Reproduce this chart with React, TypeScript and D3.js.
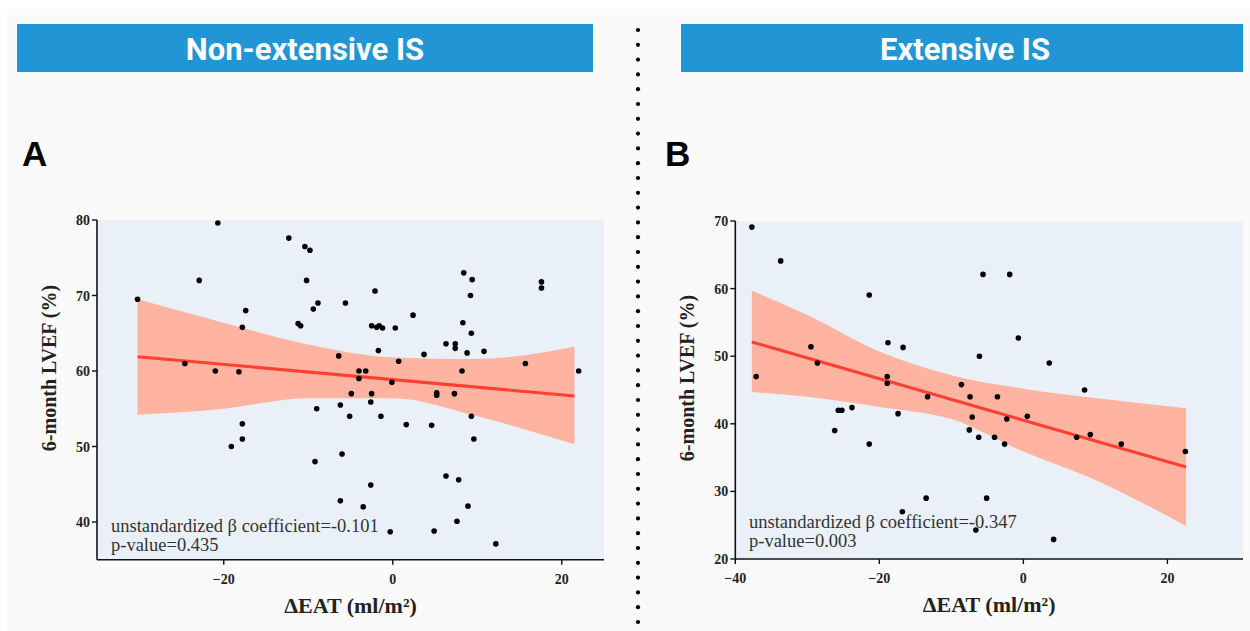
import React from "react";
import * as d3 from "d3";

// panel A: non-extensive IS (ΔEAT, 6-month LVEF)
const pointsA: [number, number][] = [
  [-30.2, 69.5], [-20.7, 79.6], [-22.9, 72.0], [-12.3, 77.6], [-10.4, 76.5], [-9.8, 76.0],
  [-10.2, 72.0], [-8.85, 69.0], [-9.4, 68.2], [-5.6, 69.0], [-17.4, 68.0], [-17.8, 65.8],
  [-11.2, 66.3], [-10.9, 66.0], [-6.4, 62.0], [-24.6, 61.0], [-21.0, 60.0], [-18.2, 59.9],
  [-4.0, 60.0], [-4.0, 59.0], [-4.9, 57.0], [-2.1, 70.6], [2.4, 67.4], [-2.5, 66.0],
  [-1.9, 65.8], [-1.6, 66.0], [-1.2, 65.7], [0.3, 65.7], [8.4, 73.0], [9.4, 72.1],
  [9.2, 70.0], [17.6, 71.8], [17.6, 71.0], [8.3, 66.4], [9.3, 65.0], [6.3, 63.6],
  [7.4, 63.6], [7.4, 63.0], [8.8, 62.4], [10.8, 62.6], [3.7, 62.2], [-1.7, 62.7],
  [0.7, 61.3], [15.7, 61.0], [22.0, 60.0], [-3.2, 60.0], [-0.1, 58.5], [8.2, 60.0],
  [-2.5, 57.0], [5.2, 57.1], [5.2, 56.8], [7.3, 57.0], [-6.2, 55.5], [-2.6, 55.9],
  [-5.1, 54.0], [-1.4, 54.0], [1.6, 52.9], [4.6, 52.8], [9.3, 54.0], [9.6, 51.0],
  [-6.0, 49.0], [-2.6, 44.9], [6.3, 46.1], [7.8, 45.6], [-6.2, 42.8], [-3.5, 42.0],
  [8.9, 42.1], [7.6, 40.1], [-0.3, 38.7], [4.9, 38.8], [12.2, 37.1], [-17.8, 53.0],
  [-17.8, 51.0], [-19.1, 50.0], [-9.0, 55.0], [-9.2, 48.0],
];
const fitA = { x: [-30.2, 21.5], y: [61.9, 56.7] };
const bandAx = [-30.2, -20, -10, 0, 10, 21.5];
const bandAlo = [54.2, 55.0, 56.4, 56.4, 54.0, 50.3];
const bandAhi = [69.5, 66.4, 63.5, 61.8, 61.6, 63.2];

// panel B: extensive IS
const pointsB: [number, number][] = [
  [-37.7, 69.1], [-33.7, 64.1], [-21.4, 59.05], [-5.6, 62.1], [-1.9, 62.1], [-29.5, 51.4],
  [-28.6, 49.0], [-18.8, 52.0], [-16.7, 51.3], [-37.1, 47.0], [-18.9, 47.0], [-18.9, 46.0],
  [-6.1, 50.0], [-8.6, 45.8], [-13.3, 44.0], [-7.4, 44.0], [-3.6, 44.0], [-0.7, 52.7],
  [3.6, 49.0], [8.5, 45.0], [-25.7, 42.0], [-25.2, 42.0], [-23.8, 42.4], [-17.4, 41.5],
  [-7.1, 41.0], [-7.5, 39.1], [-26.2, 39.0], [-6.2, 38.0], [-21.4, 37.0], [-13.5, 29.0],
  [-5.1, 29.0], [-16.8, 27.0], [-6.6, 24.3], [-2.3, 40.7], [0.55, 41.1], [-4.0, 38.0],
  [-2.6, 37.0], [4.2, 22.9], [7.4, 38.0], [9.3, 38.4], [13.6, 37.0], [22.5, 35.9],
];
const fitB = { x: [-37.7, 22.6], y: [52.1, 33.6] };
const bandBx = [-37.7, -30, -20, -10, 0, 10, 22.6];
const bandBlo = [44.7, 44.0, 42.5, 40.7, 35.9, 31.7, 24.9];
const bandBhi = [59.7, 56.1, 50.7, 47.2, 45.2, 43.8, 42.3];

const ticksA_x = [-20, 0, 20];
const ticksA_y = [40, 50, 60, 70, 80];
const ticksB_x = [-40, -20, 0, 20];
const ticksB_y = [20, 30, 40, 50, 60, 70];

const serif = "'Liberation Serif', 'Times New Roman', serif";
const sans = "'Liberation Sans', Arial, sans-serif";

type PanelProps = {
  left: number; right: number; top: number; bottom: number;
  xDomain: [number, number]; yDomain: [number, number];
  xTicks: number[]; yTicks: number[];
  points: [number, number][];
  fit: { x: number[]; y: number[] };
  bx: number[]; blo: number[]; bhi: number[];
  beta: string; pval: string; noteX: number; noteY: number;
  labelY: number;
};

function Panel(p: PanelProps) {
  const x = d3.scaleLinear().domain(p.xDomain).range([p.left, p.right]);
  const y = d3.scaleLinear().domain(p.yDomain).range([p.bottom, p.top]);
  const band = d3.area<number>()
    .x((d) => x(p.bx[d]))
    .y0((d) => y(p.blo[d]))
    .y1((d) => y(p.bhi[d]))
    .curve(d3.curveMonotoneX);
  const line = d3.line<number>().x((d) => x(p.fit.x[d])).y((d) => y(p.fit.y[d]));
  const midX = (p.left + p.right) / 2;
  return (
    <g>
      <rect x={p.left} y={p.top} width={p.right - p.left} height={p.bottom - p.top} fill="#eaf0f7" />
      <path d={band(d3.range(p.bx.length)) || ""} fill="#ffb3a1" />
      <path d={line([0, 1]) || ""} stroke="#ff4032" strokeWidth={3} fill="none" />
      {p.points.map((d, i) => (
        <circle key={i} cx={x(d[0])} cy={y(d[1])} r={2.8} fill="#000" />
      ))}
      <line x1={p.left} x2={p.right} y1={p.bottom} y2={p.bottom} stroke="#111" strokeWidth={1.6} />
      <line x1={p.left} x2={p.left} y1={p.top} y2={p.bottom} stroke="#111" strokeWidth={1.6} />
      {p.xTicks.map((t) => (
        <g key={t}>
          <line x1={x(t)} x2={x(t)} y1={p.bottom} y2={p.bottom + 5} stroke="#111" strokeWidth={1.4} />
          <text x={x(t)} y={p.bottom + 24} textAnchor="middle" fontFamily={serif} fontWeight="bold" fontSize={14} fill="#222">
            {t < 0 ? "\u2212" + Math.abs(t) : t}
          </text>
        </g>
      ))}
      {p.yTicks.map((t) => (
        <g key={t}>
          <line x1={p.left - 5} x2={p.left} y1={y(t)} y2={y(t)} stroke="#111" strokeWidth={1.4} />
          <text x={p.left - 7} y={y(t) + 5} textAnchor="end" fontFamily={serif} fontWeight="bold" fontSize={14} fill="#222">
            {t}
          </text>
        </g>
      ))}
      <text x={midX} y={p.bottom + 53} textAnchor="middle" fontFamily={serif} fontWeight="bold" fontSize={22} fill="#222">
        ΔEAT (ml/m²)
      </text>
      <text transform={`translate(${p.left - 41},${p.labelY}) rotate(-90)`} textAnchor="middle" fontFamily={serif} fontWeight="bold" fontSize={20} fill="#222">
        6-month LVEF (%)
      </text>
      <text x={p.noteX} y={p.noteY} fontFamily={serif} fontSize={18.5} fill="#333">
        unstandardized β coefficient={p.beta}
      </text>
      <text x={p.noteX} y={p.noteY + 19} fontFamily={serif} fontSize={18.5} fill="#333">
        p-value={p.pval}
      </text>
    </g>
  );
}

export default function App() {
  const dots = d3.range(30, 628, 14.8);
  return (
    <svg width={1250} height={631} style={{ position: "absolute", left: 0, top: 0, background: "#fff" }}>
      <rect x={7} y={9} width={1243} height={622} fill="#fafafa" />
      <rect x={17} y={24} width={576} height={48} fill="#2296d4" />
      <rect x={681} y={24} width={562} height={48} fill="#2296d4" />
      <text x={305} y={60} textAnchor="middle" fontFamily="Roboto, sans-serif" fontWeight="bold" fontSize={31} fill="#fff">
        Non-extensive IS
      </text>
      <text x={965} y={60} textAnchor="middle" fontFamily="Roboto, sans-serif" fontWeight="bold" fontSize={31} fill="#fff">
        Extensive IS
      </text>
      <text x={22} y={166} fontFamily={sans} fontWeight="bold" fontSize={35} fill="#000">A</text>
      <text x={665} y={166} fontFamily={sans} fontWeight="bold" fontSize={35} fill="#000">B</text>
      {dots.map((d, i) => (
        <circle key={i} cx={638} cy={d} r={2.1} fill="#000" />
      ))}
      <Panel
        left={97} right={604} top={220} bottom={559.75}
        xDomain={[-35, 25]} yDomain={[35, 80]}
        xTicks={ticksA_x} yTicks={ticksA_y}
        points={pointsA} fit={fitA}
        bx={bandAx} blo={bandAlo} bhi={bandAhi}
        beta="-0.101" pval="0.435" noteX={111} noteY={532}
        labelY={368}
      />
      <Panel
        left={735.3} right={1243} top={221} bottom={559}
        xDomain={[-40, 30.5]} yDomain={[20, 70]}
        xTicks={ticksB_x} yTicks={ticksB_y}
        points={pointsB} fit={fitB}
        bx={bandBx} blo={bandBlo} bhi={bandBhi}
        beta="-0.347" pval="0.003" noteX={749} noteY={528}
        labelY={378}
      />
    </svg>
  );
}
